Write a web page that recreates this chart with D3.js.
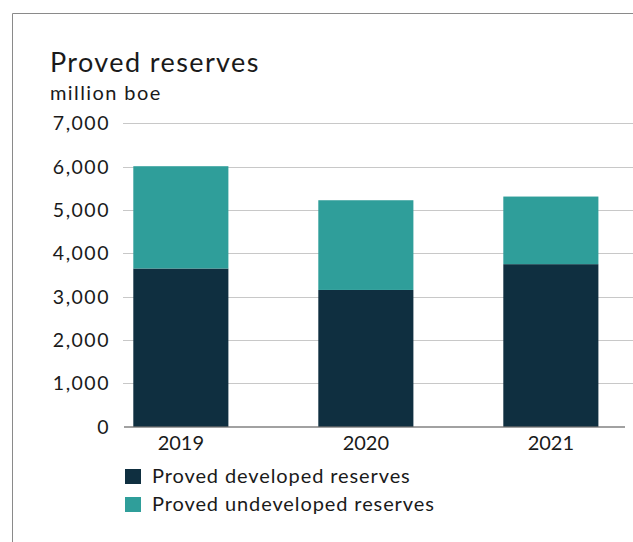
<!DOCTYPE html>
<html><head><meta charset="utf-8">
<script src="https://cdn.jsdelivr.net/npm/d3@7"></script>
<style>body{margin:0;background:#fff}svg{display:block;font-family:Lato,"Noto Sans",sans-serif}</style>
</head><body><svg id="c" width="633" height="542"></svg>
<script>
const years = ["2019","2020","2021"];
const developed = [3650, 3155, 3750];
const undeveloped = [2360, 2070, 1560];
const seriesNames = ["Proved developed reserves","Proved undeveloped reserves"];
const colors = ["#0f2f40","#2f9e9a"];
const yTicks = [0,1000,2000,3000,4000,5000,6000,7000];

const svg = d3.select("#c");
// frame
svg.append("line").attr("x1",12.5).attr("x2",633).attr("y1",13.5).attr("y2",13.5).attr("stroke","#8a8a8a");
svg.append("line").attr("x1",12.5).attr("x2",12.5).attr("y1",13.5).attr("y2",542).attr("stroke","#8a8a8a");

svg.append("text").attr("x",50).attr("y",72).attr("font-size",27).attr("letter-spacing",1.4).attr("fill","#1a1a1a").text("Proved reserves");
svg.append("text").attr("x",50).attr("y",100).attr("font-size",20).attr("letter-spacing",1.4).attr("fill","#1a1a1a").text("million boe");

const y = d3.scaleLinear().domain([0,7000]).range([426.7,123.3]);
const x = d3.scaleBand().domain(years).range([96.3,635.4]).paddingInner(0.486).paddingOuter(0.2);

const fmt = d3.format(",");
const g = svg.append("g");
g.selectAll("line.grid").data(yTicks.filter(d=>d>0)).join("line")
  .attr("x1",123).attr("x2",633).attr("y1",d=>Math.round(y(d))+0.5).attr("y2",d=>Math.round(y(d))+0.5)
  .attr("stroke","#c8c8c8").attr("stroke-width",1);
g.selectAll("text.yt").data(yTicks).join("text")
  .attr("x",110).attr("y",d=>y(d)+7).attr("text-anchor","end").attr("font-size",19.5).attr("letter-spacing",1.5).attr("fill","#1a1a1a")
  .text(d=>fmt(d));

const stack = years.map((yr,i)=>({yr, d:developed[i], u:undeveloped[i]}));
const bars = svg.append("g");
bars.selectAll("rect.dev").data(stack).join("rect")
  .attr("x",d=>x(d.yr)).attr("width",x.bandwidth())
  .attr("y",d=>y(d.d)).attr("height",d=>y(0)-y(d.d)).attr("fill",colors[0]);
bars.selectAll("rect.und").data(stack).join("rect")
  .attr("x",d=>x(d.yr)).attr("width",x.bandwidth())
  .attr("y",d=>y(d.d+d.u)).attr("height",d=>y(d.d)-y(d.d+d.u)).attr("fill",colors[1]);

svg.append("line").attr("x1",124).attr("x2",625).attr("y1",427).attr("y2",427).attr("stroke","#444").attr("stroke-width",1.2);

svg.selectAll("text.xl").data(years).join("text")
  .attr("x",d=>x(d)+x.bandwidth()/2).attr("y",450).attr("text-anchor","middle").attr("font-size",20).attr("fill","#1a1a1a").text(d=>d);

const lg = svg.append("g");
seriesNames.forEach((n,i)=>{
  lg.append("rect").attr("x",125).attr("y",469+i*28).attr("width",16).attr("height",15).attr("fill",colors[i]);
  lg.append("text").attr("x",152).attr("y",483+i*27.5).attr("font-size",20).attr("letter-spacing",0.9).attr("fill","#1a1a1a").text(n);
});
</script></body></html>
